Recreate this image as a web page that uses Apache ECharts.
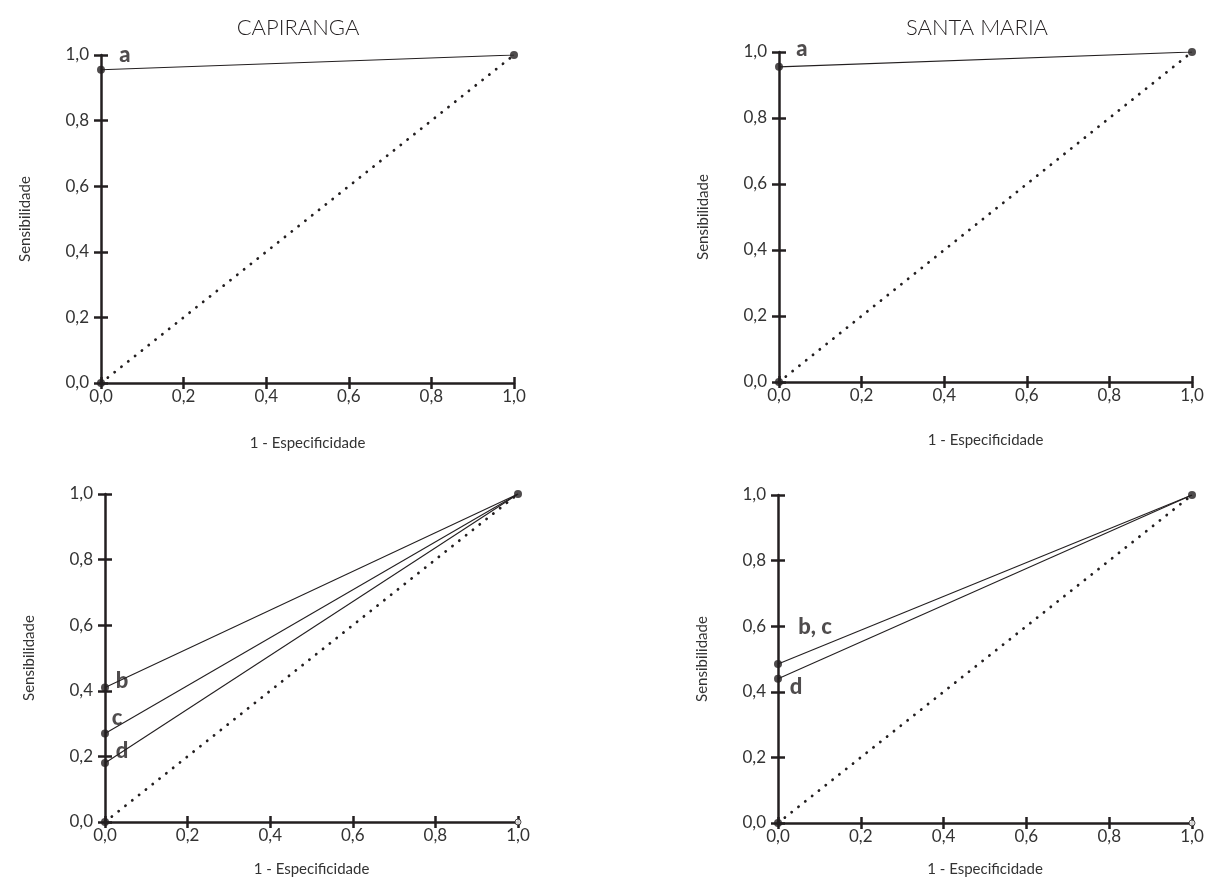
<!DOCTYPE html>
<html><head><meta charset="utf-8">
<script src="https://cdn.jsdelivr.net/npm/echarts@6/dist/echarts.min.js"></script>
<style>html,body{margin:0;padding:0;background:#fff}#c{width:1207px;height:878px}</style>
</head><body><div id="c"></div>
<script>
// ---- data ----
const titles = ['CAPIRANGA', 'SANTA MARIA'];
const tickValues = [0, 0.2, 0.4, 0.6, 0.8, 1.0];
const tickLabels = ['0,0', '0,2', '0,4', '0,6', '0,8', '1,0'];
const xName = '1 - Especificidade';
const yName = 'Sensibilidade';
// top row (test a)
const capTopSens = [0.955];
const capTopLabels = ['a'];
const smTopSens = [0.955];
const smTopLabels = ['a'];
// bottom row (tests b, c, d)
const capBotSens = [0.41, 0.27, 0.18];
const capBotLabels = ['b', 'c', 'd'];
const smBotSens = [0.485, 0.44];
const smBotLabels = ['b, c', 'd'];

// ---- style / layout ----
const FONT = 'Lato';
const AX = '#231f20';
const grids = [
  {left: 101, top: 55, width: 413, height: 328},
  {left: 779, top: 52, width: 413, height: 330},
  {left: 105, top: 494, width: 413, height: 328},
  {left: 778, top: 495, width: 414, height: 328}
];
const xNameGaps = [53, 51, 40, 39];
const panelData = [
  {sens: capTopSens, labels: capTopLabels, offsets: [[24, -15]], bottom: false},
  {sens: smTopSens, labels: smTopLabels, offsets: [[23, -18]], bottom: false},
  {sens: capBotSens, labels: capBotLabels, offsets: [[17, -7], [12, -16], [17, -12]], bottom: true},
  {sens: smBotSens, labels: smBotLabels, offsets: [[37, -37], [18, 8]], bottom: true}
];
const fmt = v => tickLabels[tickValues.findIndex(t => Math.abs(t - v) < 1e-6)] || '';

const xAxis = [], yAxis = [], series = [];
grids.forEach((g, i) => {
  const base = {type: 'value', gridIndex: i, min: 0, max: 1, interval: 0.2, splitLine: {show: false}};
  xAxis.push(Object.assign({}, base, {
    position: 'bottom',
    axisLine: {show: true, onZero: false, lineStyle: {color: AX, width: 2.5}},
    axisTick: {show: true, length: 6, lineStyle: {color: AX, width: 2.5}},
    axisLabel: {show: true, margin: 5, fontFamily: FONT, fontSize: 17, color: '#333', formatter: fmt},
    name: xName, nameLocation: 'middle', nameGap: xNameGaps[i],
    nameTextStyle: {fontFamily: FONT, fontSize: 15, color: '#333'}
  }));
  yAxis.push(Object.assign({}, base, {
    position: 'left',
    axisLine: {show: true, onZero: false, lineStyle: {color: AX, width: 2.5}},
    axisTick: {show: true, length: 7, lineStyle: {color: AX, width: 2.5}},
    axisLabel: {show: true, margin: 12, fontFamily: FONT, fontSize: 17, color: '#333', formatter: fmt},
    name: yName, nameLocation: 'middle', nameGap: 68,
    nameTextStyle: {fontFamily: FONT, fontSize: 15, color: '#333'}
  }));
  // twin axes: inside ticks so ticks cross the axis line
  xAxis.push(Object.assign({}, base, {
    position: 'bottom',
    axisLine: {show: false, onZero: false},
    axisTick: {show: true, inside: true, length: 6, lineStyle: {color: AX, width: 2.5}},
    axisLabel: {show: false}
  }));
  yAxis.push(Object.assign({}, base, {
    position: 'left',
    axisLine: {show: false, onZero: false},
    axisTick: {show: true, inside: true, length: 7, lineStyle: {color: AX, width: 2.5}},
    axisLabel: {show: false}
  }));
  const xi = 2 * i, yi = 2 * i;
  const pd = panelData[i];
  series.push({
    type: 'line', xAxisIndex: xi, yAxisIndex: yi, data: [[0, 0], [1, 1]],
    symbol: 'none', silent: true,
    lineStyle: {color: AX, width: 2.8, type: [0.1, 8.6], cap: 'round'}
  });
  pd.sens.forEach(s => {
    series.push({
      type: 'line', xAxisIndex: xi, yAxisIndex: yi, data: [[0, s], [1, 1]],
      symbol: 'none', silent: true, lineStyle: {color: AX, width: 1.1}
    });
  });
  series.push({
    type: 'scatter', xAxisIndex: xi, yAxisIndex: yi, symbolSize: 8,
    itemStyle: {color: AX}, silent: true, z: 5,
    data: pd.sens.map((s, k) => ({
      value: [0, s],
      label: {show: true, position: 'inside', offset: pd.offsets[k], formatter: pd.labels[k],
        fontFamily: FONT, fontWeight: 900, fontSize: 22, color: AX}
    }))
  });
  series.push({
    type: 'scatter', xAxisIndex: xi, yAxisIndex: yi, symbolSize: 8,
    itemStyle: {color: AX}, silent: true, z: 5, data: [[0, 0], [1, 1]]
  });
  if (pd.bottom) {
    series.push({
      type: 'scatter', xAxisIndex: xi, yAxisIndex: yi, symbol: 'circle', symbolSize: 6,
      itemStyle: {color: '#fff', borderColor: AX, borderWidth: 1}, silent: true, z: 6, data: [[1, 0]]
    });
  }
});

const option = {
  animation: false,
  backgroundColor: '#fff',
  title: [
    {text: titles[0], left: 293, top: 12, textAlign: 'center',
      textStyle: {fontFamily: FONT, fontWeight: 300, fontSize: 22, color: '#231f20'}},
    {text: titles[1], left: 972, top: 12, textAlign: 'center',
      textStyle: {fontFamily: FONT, fontWeight: 300, fontSize: 22, color: '#231f20'}}
  ],
  grid: grids.map(g => Object.assign({containLabel: false, outerBoundsMode: 'none'}, g)),
  xAxis, yAxis, series
};
const chart = echarts.init(document.getElementById('c'), null, {renderer: 'canvas'});
chart.setOption(option);
</script></body></html>
